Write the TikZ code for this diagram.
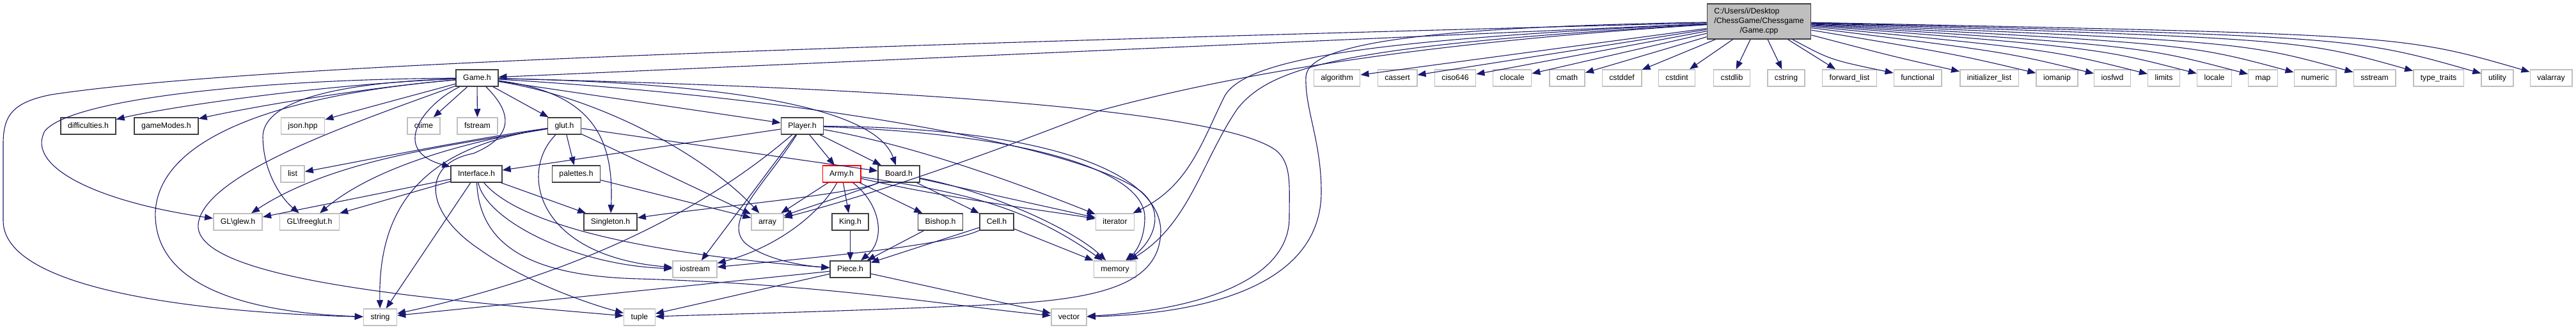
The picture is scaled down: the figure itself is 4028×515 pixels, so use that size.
\documentclass[tikz,border=0pt]{standalone}
\usepackage{fontspec}
\setmainfont{Liberation Sans}
\usetikzlibrary{arrows.meta}
\definecolor{edgeink}{HTML}{191970}
\definecolor{sysgray}{HTML}{BFBFBF}
\definecolor{fileink}{HTML}{404040}
\newcommand{\doxyfont}{\fontsize{12.25}{14.7}\selectfont}
\tikzset{
  filebox/.style={draw=fileink,line width=1.5pt,fill=white,font=\doxyfont,
    minimum height=26pt,inner xsep=11pt,inner ysep=0pt,text height=9pt,text depth=2.6pt},
  sysbox/.style={filebox,draw=sysgray},
  cutbox/.style={filebox,draw=red,line width=1.1pt},
  rootbox/.style={draw=fileink,line width=1.5pt,fill=sysgray,font=\doxyfont,
    minimum height=55pt,inner xsep=11pt,inner ysep=0pt},
  incl/.style={draw=edgeink,line width=1.1pt,-{Triangle[length=13pt,width=10pt]}},
}

\begin{document}
\begin{tikzpicture}[x=1pt,y=-1pt]
  \useasboundingbox (0,0) rectangle (4028,515);
  % root file
  \node[rootbox] (gamecpp) at (2750.5,33.5) {\begin{tabular}{@{}l@{}}C:/Users/i/Desktop\\/ChessGame/Chessgame\\\multicolumn{1}{@{}c@{}}{/Game.cpp}\end{tabular}};
  % rank 1
  \node[filebox] (gameh) at (746,122) {Game.h};
  \foreach \n/\x/\t in {algorithm/2090.5/algorithm, cassert/2185/cassert, ciso/2275.5/ciso646,
      clocale/2364.5/clocale, cmath/2450.5/cmath, cstddef/2536/cstddef, cstdint/2622/cstdint,
      cstdlib/2708/cstdlib, cstring/2793/cstring, fwdlist/2892/forward\_list,
      functional/2998.5/functional, initlist/3110.5/initializer\_list, iomanip/3216.5/iomanip,
      iosfwd/3303/iosfwd, limits/3383.5/limits, locale/3462.5/locale, map/3538.5/map,
      numeric/3620/numeric, sstream/3713/sstream, typetraits/3813/type\_traits,
      utility/3905/utility, valarray/3989/valarray}
    \node[sysbox] (\n) at (\x,122) {\t};
  % rank 2
  \node[filebox] (difficulties) at (138,197) {difficulties.h};
  \node[filebox] (gamemodes) at (260,197) {gameModes.h};
  \node[sysbox] (json) at (473.5,197) {json.hpp};
  \node[sysbox] (ctime) at (662.5,197) {ctime};
  \node[sysbox] (fstream) at (746.5,197) {fstream};
  \node[filebox] (glut) at (882.5,197) {glut.h};
  \node[filebox] (player) at (1254.5,197) {Player.h};
  % rank 3
  \node[sysbox] (list) at (457.5,272) {list};
  \node[filebox] (interface) at (745,272) {Interface.h};
  \node[filebox] (palettes) at (901,272) {palettes.h};
  \node[cutbox] (army) at (1316,272) {Army.h};
  \node[filebox] (board) at (1405.5,272) {Board.h};
  % rank 4
  \node[sysbox] (glew) at (372,347) {GL\textbackslash glew.h};
  \node[sysbox] (freeglut) at (484,347) {GL\textbackslash freeglut.h};
  \node[filebox] (singleton) at (954.5,347) {Singleton.h};
  \node[sysbox] (array) at (1200,347) {array};
  \node[filebox] (king) at (1329.5,347) {King.h};
  \node[filebox] (bishop) at (1470.5,347) {Bishop.h};
  \node[filebox] (cell) at (1558.5,347) {Cell.h};
  \node[sysbox] (iterator) at (1743.5,347) {iterator};
  % rank 5
  \node[sysbox] (iostream) at (1086.5,421) {iostream};
  \node[filebox] (piece) at (1329.5,421) {Piece.h};
  \node[sysbox] (memory) at (1743.5,421) {memory};
  % rank 6
  \node[sysbox] (string) at (594.5,496) {string};
  \node[sysbox] (tuple) at (1000,496) {tuple};
  \node[sysbox] (vector) at (1671.5,496) {vector};

  % Game.cpp
  \foreach \n in {algorithm,cassert,ciso,clocale,cmath,cstddef,cstdint,cstdlib,cstring,fwdlist}
    \draw[incl] (gamecpp) -- (\n);
  \foreach \n/\cx/\cy in {functional/2862/93.5, initlist/2963/89, iomanip/3058.5/84.8,
      iosfwd/3136.3/81.3, limits/3208.7/78.1, locale/3279.8/74.9, map/3348.2/71.9,
      numeric/3421.6/68.6, sstream/3505.3/64.9, typetraits/3595.3/60.9,
      utility/3678.1/57.2, valarray/3754/53.9}
    \draw[incl] (gamecpp) .. controls (\cx,\cy) .. (\n);
  \draw[incl] (gamecpp) -- (gameh);
  \draw[incl] (gamecpp) .. controls (1300,72) and (400,100) .. (80,148) .. controls (20,160) and (5,180) .. (5,225) -- (5,345) .. controls (5,460) and (350,490) .. (string);
  \draw[incl] (gamecpp) .. controls (2250,65) and (1950,110) .. (1719,173) .. controls (1560,235) and (1380,300) .. (array);
  \draw[incl] (gamecpp) .. controls (2150,62) and (1950,90) .. (1915,150) .. controls (1880,220) and (1860,290) .. (iterator);
  \draw[incl] (gamecpp) .. controls (2120,70) and (1990,100) .. (1935,170) .. controls (1880,250) and (1860,350) .. (memory);
  \draw[incl] (gamecpp) .. controls (2250,42) and (2045,65) .. (2042,120) .. controls (2040,170) and (2066,220) .. (2066,300) .. controls (2066,440) and (1900,490) .. (vector);

  % Game.h
  \draw[incl] (gameh) .. controls (500,132) and (260,168) .. (difficulties);
  \draw[incl] (gameh) .. controls (560,138) and (380,170) .. (gamemodes);
  \draw[incl] (gameh) .. controls (650,148) and (560,172) .. (json);
  \draw[incl] (gameh) -- (ctime);
  \draw[incl] (gameh) -- (fstream);
  \draw[incl] (gameh) -- (glut);
  \draw[incl] (gameh) -- (player);
  \draw[incl] (gameh) .. controls (660,165) and (610,235) .. (interface);
  \draw[incl] (gameh) .. controls (930,145) and (960,220) .. (singleton);
  \draw[incl] (gameh) .. controls (950,155) and (1110,250) .. (array);
  \draw[incl] (gameh) .. controls (1150,130) and (1370,170) .. (board);
  \draw[incl] (gameh) .. controls (400,124) and (110,155) .. (70,205) .. controls (40,260) and (150,315) .. (glew);
  \draw[incl] (gameh) .. controls (500,130) and (410,165) .. (411,215) .. controls (412,270) and (440,310) .. (freeglut);
  \draw[incl] (gameh) .. controls (420,150) and (250,220) .. (243,330) .. controls (238,460) and (420,490) .. (string);
  \draw[incl] (gameh) .. controls (560,190) and (320,270) .. (310,350) .. controls (300,440) and (700,470) .. (tuple);
  \draw[incl] (gameh) .. controls (805,180) and (800,215) .. (740,240) .. controls (660,255) and (660,330) .. (750,390) .. controls (820,440) and (920,475) .. (tuple);
  \draw[incl] (gameh) .. controls (1300,135) and (1900,165) .. (1995,235) .. controls (2020,255) and (2016,290) .. (2016,340) .. controls (2016,440) and (1870,485) .. (vector);
  \draw[incl] (gameh) .. controls (1300,155) and (1700,235) .. (1785,300) .. controls (1825,335) and (1800,380) .. (memory);

  % glut.h
  \draw[incl] (glut) .. controls (750,215) and (600,245) .. (list);
  \draw[incl] (glut) .. controls (700,228) and (520,250) .. (glew);
  \draw[incl] (glut) .. controls (720,222) and (580,265) .. (freeglut);
  \draw[incl] (glut) .. controls (700,225) and (590,290) .. (string);
  \draw[incl] (glut) -- (palettes);
  \draw[incl] (glut) .. controls (810,270) and (840,400) .. (iostream);
  \draw[incl] (glut) -- (array);
  \draw[incl] (glut) -- (board);

  % Player.h
  \draw[incl] (player) -- (interface);
  \draw[incl] (player) -- (army);
  \draw[incl] (player) -- (board);
  \draw[incl] (player) .. controls (1100,330) and (900,430) .. (string);
  \draw[incl] (player) -- (iostream);
  \draw[incl] (player) .. controls (1195,290) and (1130,345) .. (1165,380) .. controls (1195,405) and (1250,415) .. (piece);
  \draw[incl] (player) .. controls (1450,230) and (1650,310) .. (iterator);
  \draw[incl] (player) .. controls (1620,210) and (1790,270) .. (1790,340) .. controls (1790,375) and (1775,395) .. (memory);
  \draw[incl] (player) .. controls (1640,200) and (1812,270) .. (1815,360) .. controls (1815,445) and (1720,468) .. (1560,476) .. controls (1300,488) and (1100,492) .. (tuple);

  % Interface.h
  \draw[incl] (interface) -- (glew);
  \draw[incl] (interface) -- (freeglut);
  \draw[incl] (interface) -- (string);
  \draw[incl] (interface) -- (singleton);
  \draw[incl] (interface) .. controls (760,345) and (900,415) .. (iostream);
  \draw[incl] (interface) .. controls (820,360) and (1050,400) .. (piece);
  \draw[incl] (interface) .. controls (750,390) and (840,432) .. (1000,436) .. controls (1300,445) and (1500,480) .. (vector);
  \draw[incl] (palettes) -- (array);

  % Army.h
  \draw[incl] (army) -- (array);
  \draw[incl] (army) .. controls (1285,330) and (1220,385) .. (iostream);
  \draw[incl] (army) -- (king);
  \draw[incl] (army) .. controls (1378,320) and (1385,375) .. (piece);
  \draw[incl] (army) -- (bishop);
  \draw[incl] (army) .. controls (1480,310) and (1640,330) .. (iterator);
  \draw[incl] (army) .. controls (1500,300) and (1600,320) .. (memory);

  % Board.h
  \draw[incl] (board) .. controls (1330,305) and (1100,325) .. (singleton);
  \draw[incl] (board) .. controls (1340,300) and (1260,325) .. (array);
  \draw[incl] (board) -- (cell);
  \draw[incl] (board) -- (iterator);
  \draw[incl] (board) .. controls (1550,300) and (1680,360) .. (memory);

  % pieces
  \draw[incl] (king) -- (piece);
  \draw[incl] (bishop) -- (piece);
  \draw[incl] (cell) -- (piece);
  \draw[incl] (cell) .. controls (1480,385) and (1250,405) .. (iostream);
  \draw[incl] (cell) -- (memory);
  \draw[incl] (piece) -- (string);
  \draw[incl] (piece) -- (tuple);
  \draw[incl] (piece) -- (vector);
\end{tikzpicture}
\end{document}
